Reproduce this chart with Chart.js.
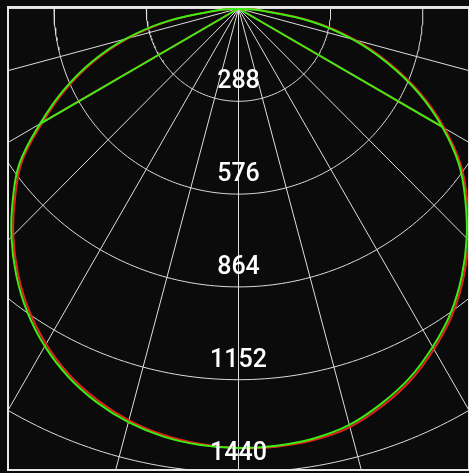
<!DOCTYPE html>
<html>
<head>
<meta charset="utf-8">
<script src="https://cdn.jsdelivr.net/npm/chart.js@4.4.1/dist/chart.umd.min.js"></script>
<style>
  html, body { margin: 0; padding: 0; background: #0b0b0b; overflow: hidden; }
  #wrap { width: 469px; height: 473px; }
</style>
</head>
<body>
<div id="wrap"><canvas id="ldc"></canvas></div>
<script>
// gamma angles in degrees, negative = left half (C180/C270), positive = right half
const gammaAngles = [-90, -85, -80, -75, -70, -65, -60, -55, -50, -45, -40, -35, -30, -25, -20, -15, -10, -5,
  0, 5, 10, 15, 20, 25, 30, 35, 40, 45, 50, 55, 60, 65, 70, 75, 80, 85, 90];

// luminous intensity (cd)
const greenC90 = [0, 65, 225, 365, 490, 605, 716, 834, 920, 1003, 1080, 1150, 1210, 1260, 1299, 1329, 1349, 1360,
  1364, 1362, 1355, 1338, 1305, 1265, 1213, 1155, 1085, 1008, 925, 840, 735, 620, 495, 368, 228, 65, 0];
const greenC0 = [0, 0, 0, 0, 0, 0, 716, 834, 920, 1003, 1080, 1150, 1210, 1260, 1299, 1329, 1349, 1360,
  1364, 1362, 1355, 1338, 1305, 1265, 1213, 1155, 1085, 1008, 925, 840, 735, 0, 0, 0, 0, 0, 0];
const redC90 = [0, 58, 216, 356, 481, 596, 707, 825, 911, 995, 1072, 1142, 1202, 1253, 1292, 1323, 1344, 1357,
  1364, 1365, 1360, 1345, 1313, 1273, 1221, 1163, 1093, 1016, 933, 848, 743, 629, 504, 377, 237, 72, 0];
const redC0 = [0, 0, 0, 0, 0, 0, 707, 825, 911, 995, 1072, 1142, 1202, 1253, 1292, 1323, 1344, 1357,
  1364, 1365, 1360, 1345, 1313, 1273, 1221, 1163, 1093, 1016, 933, 848, 743, 0, 0, 0, 0, 0, 0];

// polar grid
const ringValues = [288, 576, 864, 1152, 1440];
const ringLabels = ['288', '576', '864', '1152', '1440'];
const spokeAngles = [-90, -75, -60, -45, -30, -15, 0, 15, 30, 45, 60, 75, 90];
const spokeLength = 3000;

const GREEN = '#3ded12';
const RED = '#e3231f';
const GRID = '#dedede';

const rad = (deg) => (deg * Math.PI) / 180;
const toXY = (deg, r) => ({ x: r * Math.sin(rad(deg)), y: -r * Math.cos(rad(deg)) });

const curve = (values) => gammaAngles.map((g, i) => toXY(g, values[i]));

const ringPoints = (r) => {
  const pts = [];
  for (let g = -90; g <= 90; g += 1) pts.push(toXY(g, r));
  return pts;
};

const gridSets = [
  ...ringValues.map((r) => ({
    data: ringPoints(r), borderColor: GRID, borderWidth: 1, tension: 0, order: 5,
  })),
  ...spokeAngles.map((g) => ({
    data: [toXY(g, 0), toXY(g, spokeLength)], borderColor: GRID, borderWidth: 1, tension: 0, order: 5,
  })),
];

// C0 plane only needs stroking where it leaves the C90 curve (the cut-off legs),
// elsewhere the smooth C90 line already covers it
const cutOffSegment = (c0, c90, color) => ({
  borderColor: (ctx) => (
    c0[ctx.p0DataIndex] === c90[ctx.p0DataIndex] && c0[ctx.p1DataIndex] === c90[ctx.p1DataIndex]
      ? 'rgba(0,0,0,0)' : color
  ),
});

const curveSets = [
  { data: curve(greenC90), borderColor: GREEN, borderWidth: 2, tension: 0.4, order: 0 },
  {
    data: curve(greenC0), borderColor: GREEN, borderWidth: 2, tension: 0, order: 1,
    segment: cutOffSegment(greenC0, greenC90, GREEN),
  },
  { data: curve(redC90), borderColor: RED, borderWidth: 2, tension: 0.4, order: 2 },
  {
    data: curve(redC0), borderColor: RED, borderWidth: 2, tension: 0, order: 3,
    segment: cutOffSegment(redC0, redC90, RED),
  },
];

const framePlugin = {
  id: 'frame',
  afterDraw(chart) {
    const { ctx, chartArea } = chart;
    ctx.save();
    ctx.strokeStyle = '#e8e8e8';
    ctx.lineWidth = 2;
    ctx.strokeRect(chartArea.left, chartArea.top, chartArea.right - chartArea.left, chartArea.bottom - chartArea.top);
    ctx.restore();
  },
};

const ringLabelPlugin = {
  id: 'ringLabels',
  afterDatasetsDraw(chart) {
    const { ctx, scales } = chart;
    const x = scales.x.getPixelForValue(0);
    ctx.save();
    ctx.fillStyle = '#ffffff';
    ctx.font = '500 25px Roboto, "DejaVu Sans", sans-serif';
    ctx.textAlign = 'center';
    ctx.textBaseline = 'alphabetic';
    ringValues.forEach((r, i) => {
      const y = scales.y.getPixelForValue(-r) - 13;
      ctx.fillText(ringLabels[i], x, y);
    });
    ctx.restore();
  },
};

new Chart(document.getElementById('ldc'), {
  type: 'scatter',
  data: {
    datasets: [...curveSets, ...gridSets].map((d) => ({
      ...d,
      showLine: true,
      pointRadius: 0,
      pointHoverRadius: 0,
      fill: false,
    })),
  },
  options: {
    responsive: true,
    maintainAspectRatio: false,
    animation: false,
    events: [],
    layout: {
      padding: { left: 8, top: 7, right: -3, bottom: 3 },
    },
    plugins: {
      legend: { display: false },
      tooltip: { enabled: false },
    },
    scales: {
      x: { type: 'linear', min: -720, max: 720, display: false },
      y: { type: 'linear', min: -1432.2, max: 4.66, display: false },
    },
  },
  plugins: [framePlugin, ringLabelPlugin],
});
</script>
</body>
</html>
